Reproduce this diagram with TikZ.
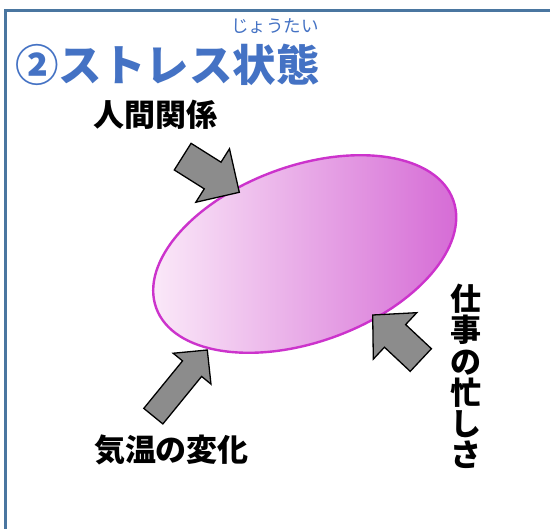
\documentclass[tikz,border=0pt]{standalone}
\usepackage{fontspec}
\setmainfont{Noto Sans CJK JP}
\usetikzlibrary{shapes.geometric}
\definecolor{framecol}{HTML}{4A76A0}
\definecolor{titleblue}{HTML}{4472C4}
\definecolor{ellborder}{HTML}{CC33CC}
\definecolor{ellleft}{HTML}{FCEEFA}
\definecolor{ellright}{HTML}{D466D4}
\definecolor{arrowgray}{HTML}{8C8C8C}
\begin{document}
\begin{tikzpicture}[x=1pt,y=-1pt,
  frame/.style={draw=framecol, line width=3pt},
  blockarrow/.style={draw=black, line width=1.3pt, fill=arrowgray, line join=miter},
  lbl/.style={font=\bfseries\fontsize{31}{31.3}\selectfont, inner sep=0pt, text=black},
  ttl/.style={font=\bfseries\fontsize{43.5}{45}\selectfont, inner sep=0pt, text=titleblue},
  ruby/.style={font=\fontsize{17.5}{18}\selectfont, inner sep=0pt, text=titleblue},
  stressell/.style={ellipse, inner sep=0pt, minimum width=316pt, minimum height=176pt,
    draw=ellborder, line width=2.4pt, left color=ellleft, right color=ellright}]
\useasboundingbox (0,0) rectangle (550,529);
\fill[white] (0,0) rectangle (550,529);
% frame
\draw[frame] (560,10.7) -- (5.5,10.7) -- (5.5,540);
% title
\node[ttl] (title) at (167.5,65) {②ストレス状態};
\node[ruby] (rubytext) at (275,26) {じょうたい};
% ellipse
\node[stressell, rotate=20] (stress) at (304.7,254) {};
% arrows
\draw[blockarrow, shift={(239.3,192.3)}, rotate=-32.2]
  (-66.9,15.75) -- (-31.5,15.75) -- (-31.5,31.6) -- (0,0) -- (-31.5,-31.6) -- (-31.5,-15.75) -- (-66.9,-15.75) -- cycle;
\draw[blockarrow, shift={(207.3,350)}, rotate=50.8]
  (-85.4,12.3) -- (-24.1,12.3) -- (-24.1,24.4) -- (0,0) -- (-24.1,-24.4) -- (-24.1,-12.3) -- (-85.4,-12.3) -- cycle;
\draw[blockarrow, shift={(372.7,315)}, rotate=136.9]
  (-65.9,15.5) -- (-30.6,15.5) -- (-30.6,31.8) -- (0,0) -- (-30.6,-31.8) -- (-30.6,-15.5) -- (-65.9,-15.5) -- cycle;
% labels
\node[lbl] (human) at (155.5,115) {人間関係};
\node[lbl] (weather) at (171.5,450) {気温の変化};
\node[lbl, align=center] (work) at (466,376.5) {仕\\事\\の\\忙\\し\\さ};
\end{tikzpicture}
\end{document}
